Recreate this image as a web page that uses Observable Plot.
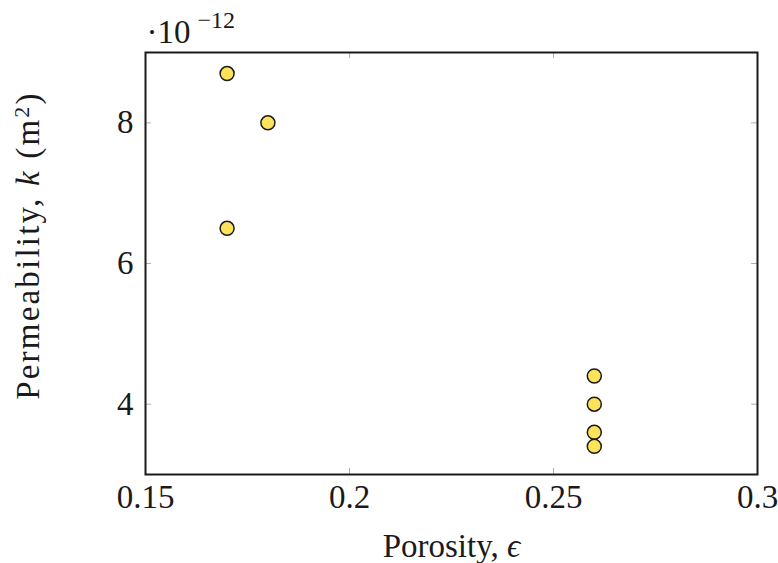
<!DOCTYPE html>
<html>
<head>
<meta charset="utf-8">
<script src="https://cdn.jsdelivr.net/npm/d3@7"></script>
<script src="https://cdn.jsdelivr.net/npm/@observablehq/plot@0.6"></script>
<style>
  html, body { margin: 0; padding: 0; background: #fff; }
  svg text { font-family: "Liberation Serif", "DejaVu Serif", serif; }
</style>
</head>
<body>
<div id="chart"></div>
<script>
// Data: porosity (x) and permeability (y, in units of 1e-12 m^2)
const porosity = [0.17, 0.18, 0.17, 0.26, 0.26, 0.26, 0.26];
const permeability = [8.7, 8.0, 6.5, 4.4, 4.0, 3.6, 3.4];
const xTicks = [0.15, 0.2, 0.25, 0.3];
const xTickLabels = ["0.15", "0.2", "0.25", "0.3"];
const yTicks = [4, 6, 8];
const yTickLabels = ["4", "6", "8"];

const data = porosity.map((p, i) => ({x: p, y: permeability[i]}));

const W = 778, H = 563;
const mL = 145, mR = 21, mT = 52, mB = 89;
const innerH = H - mT - mB;
const innerW = W - mL - mR;
const tk = 6;
const FS = 33;

const chart = Plot.plot({
  width: W,
  height: H,
  marginLeft: mL,
  marginRight: mR,
  marginTop: mT,
  marginBottom: mB,
  style: {background: "#fff", fontFamily: "Liberation Serif, serif"},
  x: {domain: [0.15, 0.3]},
  y: {domain: [3, 9]},
  marks: [
    // inward ticks, grey, on all four sides
    Plot.tickX(xTicks, {x: d => d, stroke: "#b0b0b0", strokeWidth: 1, insetTop: innerH - tk}),
    Plot.tickX(xTicks, {x: d => d, stroke: "#b0b0b0", strokeWidth: 1, insetBottom: innerH - tk}),
    Plot.tickY(yTicks, {y: d => d, stroke: "#b0b0b0", strokeWidth: 1, insetRight: innerW - tk}),
    Plot.tickY(yTicks, {y: d => d, stroke: "#b0b0b0", strokeWidth: 1, insetLeft: innerW - tk}),
    Plot.axisX(xTicks, {tickSize: 0, tickPadding: 10, fontSize: FS, tickFormat: (d, i) => xTickLabels[i], label: null, color: "#1a1a1a"}),
    Plot.axisY(yTicks, {tickSize: 0, tickPadding: 12, fontSize: FS, tickFormat: (d, i) => yTickLabels[i], label: null, color: "#1a1a1a"}),
    Plot.frame({stroke: "#1a1a1a", strokeWidth: 2}),
    Plot.dot(data, {x: "x", y: "y", r: 7, fill: "#fce35a", stroke: "#1a1a1a", strokeWidth: 1.5}),
    // x axis label
    Plot.text(["Porosity, ϵ"], {frameAnchor: "bottom", dy: 82, fontSize: FS, fill: "#1a1a1a", className: "xlabel"}),
    // y axis label
    Plot.text(["Permeability, k (m2)"], {frameAnchor: "left", textAnchor: "middle", dx: -117, dy: -18, rotate: -90, fontSize: FS, fill: "#1a1a1a", className: "ylabel"}),
    // exponent
    Plot.text(["·10"], {frameAnchor: "top-left", textAnchor: "start", lineAnchor: "bottom", dx: 1, dy: -10, fontSize: FS, fill: "#1a1a1a"}),
    Plot.text(["−12"], {frameAnchor: "top-left", textAnchor: "start", lineAnchor: "bottom", dx: 52, dy: -25, fontSize: 24, fill: "#1a1a1a"})
  ]
});

document.getElementById("chart").appendChild(chart);

// rich text for the y label: italic k, superscript 2
const yl = d3.select(chart).select(".ylabel text");
if (!yl.empty()) {
  yl.text(null).attr("letter-spacing", 2.2);
  yl.append("tspan").text("Permeability, ");
  yl.append("tspan").attr("font-style", "italic").text("k");
  yl.append("tspan").text(" (m");
  yl.append("tspan").attr("font-size", 22).attr("dy", "-0.45em").text("2");
  yl.append("tspan").attr("dy", "0.3em").text(")");
}
const xl = d3.select(chart).select(".xlabel text");
if (!xl.empty()) {
  xl.text(null);
  xl.append("tspan").text("Porosity, ");
  xl.append("tspan").attr("font-style", "italic").text("ϵ");
}
</script>
</body>
</html>
